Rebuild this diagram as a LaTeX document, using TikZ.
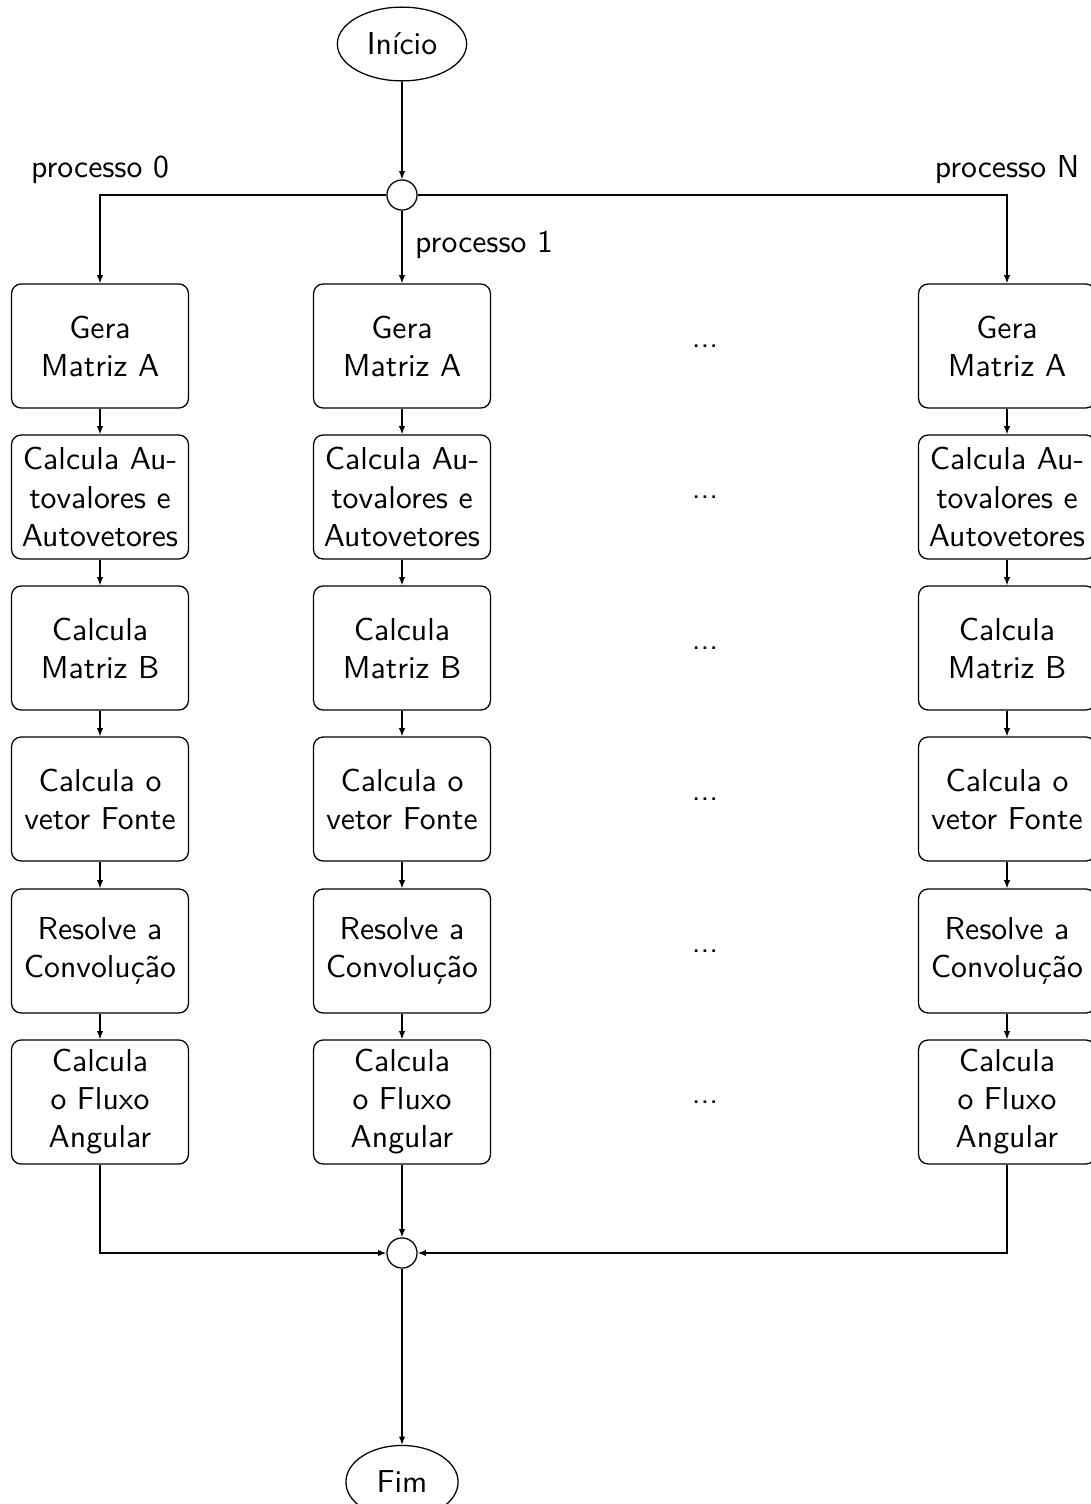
\documentclass[tikz,border=0pt]{standalone}
\usepackage{fontspec}
\usetikzlibrary{shapes.geometric,arrows.meta}
\begin{document}
\begin{tikzpicture}[x=0.3154pt,y=-0.3154pt,font=\sffamily,
  procbox/.style={draw,rounded corners=3pt,minimum width=55.8pt,minimum height=39.1pt,align=center,inner sep=1pt},
  term/.style={draw,ellipse,inner ysep=4.7pt},
  junc/.style={draw,circle,minimum size=9.5pt,inner sep=0pt},
  arr/.style={-{Latex[length=2.6pt,width=2pt]}}]
\useasboundingbox (0,0) rectangle (1091,1504);
\node[term] (ini) at (402,44) {Início};
\node[junc] (split) at (402,195) {};
\node[junc] (join) at (402,1253) {};
\node[term,inner xsep=4.5pt] (fim) at (402,1482) {Fim};
\node (lab0) at (100,170) {processo 0};
\node[anchor=west] (lab1) at (404,245) {processo 1};
\node (labN) at (1007,170) {processo N};
\foreach \c/\x in {0/100,1/402,2/1007}{
  \node[procbox] (c\c r1) at (\x,346) {Gera\\Matriz A};
  \node[procbox] (c\c r2) at (\x,497) {Calcula Au-\\tovalores e\\Autovetores};
  \node[procbox] (c\c r3) at (\x,648) {Calcula\\Matriz B};
  \node[procbox] (c\c r4) at (\x,799) {Calcula o\\vetor Fonte};
  \node[procbox] (c\c r5) at (\x,951) {Resolve a\\Convolução};
  \node[procbox] (c\c r6) at (\x,1102) {Calcula\\o Fluxo\\Angular};
  \foreach \r [evaluate=\r as \n using int(\r+1)] in {1,...,5}{
    \draw[arr] (c\c r\r) -- (c\c r\n);
  }
}
\foreach \r/\y in {1/346,2/497,3/648,4/799,5/951,6/1102}{
  \node (dots\r) at (705,\y) {...};
}
\draw[arr] (ini) -- (split);
\draw[arr] (split) -| (c0r1);
\draw[arr] (split) -- (c1r1);
\draw[arr] (split) -| (c2r1);
\draw[arr] (c0r6) |- (join);
\draw[arr] (c1r6) -- (join);
\draw[arr] (c2r6) |- (join);
\draw[arr] (join) -- (fim);
\end{tikzpicture}
\end{document}
